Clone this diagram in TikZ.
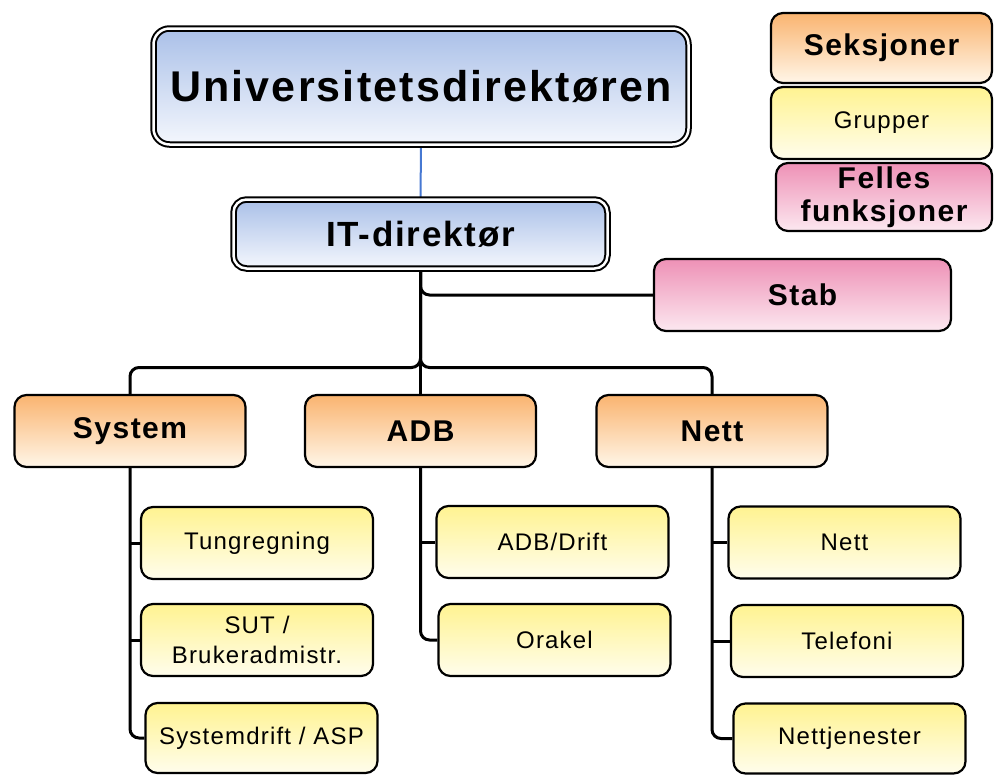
\documentclass[tikz,border=0pt]{standalone}
\usepackage{fontspec}
\setmainfont{Liberation Sans}[LetterSpace=5]
\usetikzlibrary{backgrounds}
\definecolor{blueT}{RGB}{170,192,232}
\definecolor{blueB}{RGB}{244,247,253}
\definecolor{orT}{RGB}{250,180,112}
\definecolor{orB}{RGB}{255,246,232}
\definecolor{yeT}{RGB}{255,243,145}
\definecolor{yeB}{RGB}{255,253,236}
\definecolor{piT}{RGB}{238,145,182}
\definecolor{piB}{RGB}{252,232,240}
\definecolor{linkblue}{RGB}{70,120,210}
\begin{document}
\begin{tikzpicture}[x=1pt,y=-1pt,
 box/.style={draw=black, line width=2.2pt, rounded corners=12pt, inner sep=0pt, align=center},
 topbox/.style={box, double=white, double distance=2.5pt, line width=2pt, top color=blueT, bottom color=blueB, rounded corners=16pt, font=\bfseries\fontsize{43}{47}\selectfont},
 secbox/.style={box, top color=orT, bottom color=orB, minimum width=231pt, minimum height=72pt, font=\bfseries\fontsize{30}{34}\selectfont},
 grpbox/.style={box, top color=yeT, bottom color=yeB, minimum width=232pt, minimum height=72pt, font=\fontsize{24}{30}\selectfont},
 felbox/.style={box, top color=piT, bottom color=piB, font=\bfseries\fontsize{30}{33}\selectfont},
 link/.style={line width=3pt, rounded corners=9pt}
]
\useasboundingbox (0,0) rectangle (995,774);

% top
\node[topbox, minimum width=535pt, minimum height=116pt] (udir) at (421,86.5) {Universitetsdirektøren};
\node[topbox, minimum width=374pt, minimum height=69pt, rounded corners=13pt, font=\bfseries\fontsize{35}{38}\selectfont] (itdir) at (420.5,234) {IT-direktør};

% legend
\node[secbox, minimum width=221pt, minimum height=70pt] (lsek) at (881.5,48) {Seksjoner};
\node[grpbox, minimum width=221pt, minimum height=72pt] (lgrp) at (881.5,123) {Grupper};
\node[felbox, minimum width=216pt, minimum height=68pt] (lfel) at (884,197) {Felles\\funksjoner};

% stab
\node[felbox, minimum width=297pt, minimum height=72pt] (stab) at (802.5,295) {Stab};

% sections
\node[secbox] (system) at (130,431) {System};
\node[secbox] (adb) at (420.5,431) {ADB};
\node[secbox] (nett) at (712,431) {Nett};

% groups
\node[grpbox] (tung) at (257,543) {Tungregning};
\node[grpbox] (sut) at (257,640) {SUT /\\Brukeradmistr.};
\node[grpbox, minimum height=70pt] (sysd) at (261.5,738) {Systemdrift / ASP};

\node[grpbox] (adbd) at (552.5,542) {ADB/Drift};
\node[grpbox] (orakel) at (554.5,640) {Orakel};

\node[grpbox] (nettg) at (844.5,542.5) {Nett};
\node[grpbox] (tele) at (847,641) {Telefoni};
\node[grpbox, minimum height=70pt] (nettj) at (849.5,738.5) {Nettjenester};

\begin{scope}[on background layer]
\draw[linkblue, line width=2pt] (udir.south) -- (itdir.north);
\draw[link] (itdir.south) |- (stab.west);
\draw[link] (itdir.south) -- ++(0,98) -| (system.north);
\draw[link] (itdir.south) -- ++(0,98) -| (nett.north);
\draw[link] (itdir.south) -- (adb.north);

\draw[link] (system.south) |- (sysd.west);
\draw[link] (tung.west) -- (tung.west -| system.south);
\draw[link] (sut.west) -- (sut.west -| system.south);

\draw[link] (adb.south) |- (orakel.west);
\draw[link] (adbd.west) -- (adbd.west -| adb.south);

\draw[link] (nett.south) |- (nettj.west);
\draw[link] (nettg.west) -- (nettg.west -| nett.south);
\draw[link] (tele.west) -- (tele.west -| nett.south);
\end{scope}
\end{tikzpicture}
\end{document}
